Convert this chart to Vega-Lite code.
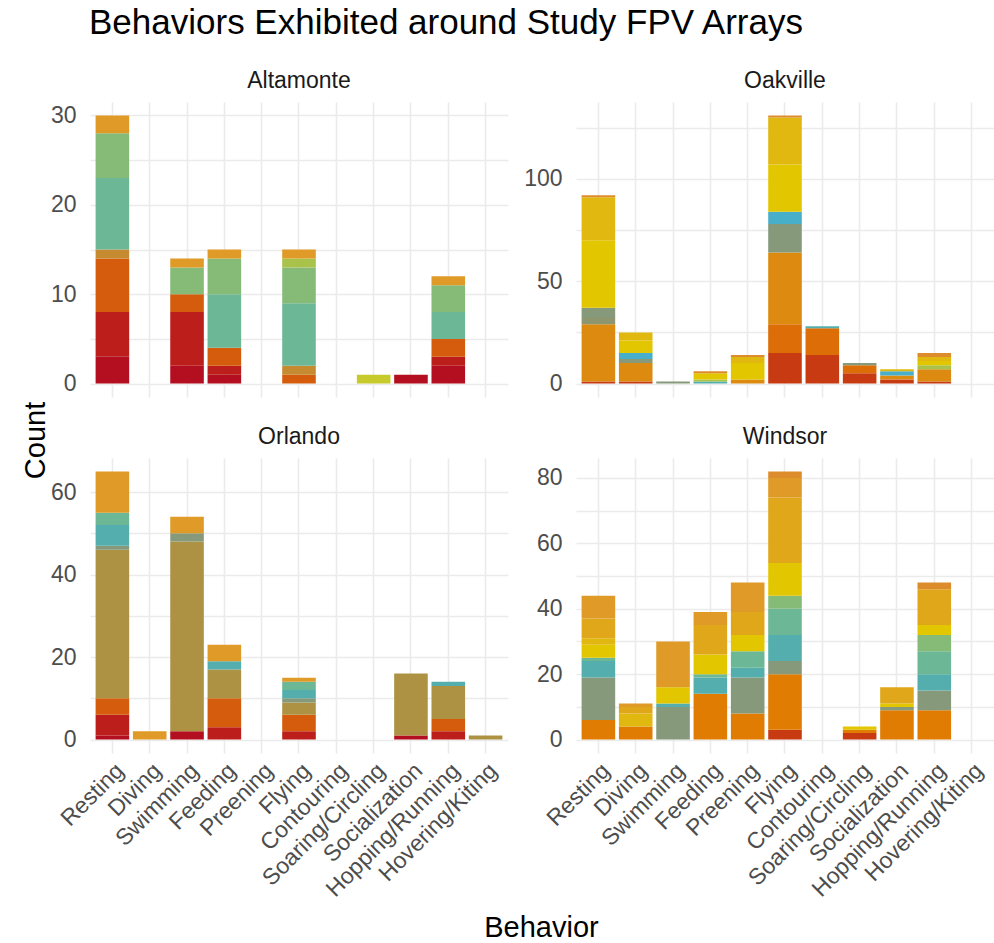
{
  "$schema": "https://vega.github.io/schema/vega-lite/v6.json",
  "background": "white",
  "padding": {"left": 21, "top": 6, "right": 0, "bottom": 0},
  "title": {"text": "Behaviors Exhibited around Study FPV Arrays", "anchor": "start", "frame": "group", "fontSize": 35, "fontWeight": "normal", "font": "Liberation Sans", "color": "#000000", "dx": -1, "offset": 29},
  "data": {"values": [
    {"site": "Altamonte", "behavior": "Resting", "species": "sp01", "count": 3},
    {"site": "Altamonte", "behavior": "Resting", "species": "sp02", "count": 5},
    {"site": "Altamonte", "behavior": "Resting", "species": "sp04", "count": 6},
    {"site": "Altamonte", "behavior": "Resting", "species": "sp08", "count": 1},
    {"site": "Altamonte", "behavior": "Resting", "species": "sp14", "count": 8},
    {"site": "Altamonte", "behavior": "Resting", "species": "sp15", "count": 5},
    {"site": "Altamonte", "behavior": "Resting", "species": "sp21", "count": 2},
    {"site": "Altamonte", "behavior": "Swimming", "species": "sp01", "count": 2},
    {"site": "Altamonte", "behavior": "Swimming", "species": "sp02", "count": 6},
    {"site": "Altamonte", "behavior": "Swimming", "species": "sp04", "count": 2},
    {"site": "Altamonte", "behavior": "Swimming", "species": "sp15", "count": 3},
    {"site": "Altamonte", "behavior": "Swimming", "species": "sp21", "count": 1},
    {"site": "Altamonte", "behavior": "Feeding", "species": "sp01", "count": 1},
    {"site": "Altamonte", "behavior": "Feeding", "species": "sp02", "count": 1},
    {"site": "Altamonte", "behavior": "Feeding", "species": "sp04", "count": 2},
    {"site": "Altamonte", "behavior": "Feeding", "species": "sp14", "count": 6},
    {"site": "Altamonte", "behavior": "Feeding", "species": "sp15", "count": 4},
    {"site": "Altamonte", "behavior": "Feeding", "species": "sp21", "count": 1},
    {"site": "Altamonte", "behavior": "Flying", "species": "sp04", "count": 1},
    {"site": "Altamonte", "behavior": "Flying", "species": "sp08", "count": 1},
    {"site": "Altamonte", "behavior": "Flying", "species": "sp14", "count": 7},
    {"site": "Altamonte", "behavior": "Flying", "species": "sp15", "count": 4},
    {"site": "Altamonte", "behavior": "Flying", "species": "sp16", "count": 1},
    {"site": "Altamonte", "behavior": "Flying", "species": "sp21", "count": 1},
    {"site": "Altamonte", "behavior": "Soaring/Circling", "species": "sp17", "count": 1},
    {"site": "Altamonte", "behavior": "Socialization", "species": "sp01", "count": 1},
    {"site": "Altamonte", "behavior": "Hopping/Running", "species": "sp01", "count": 2},
    {"site": "Altamonte", "behavior": "Hopping/Running", "species": "sp02", "count": 1},
    {"site": "Altamonte", "behavior": "Hopping/Running", "species": "sp04", "count": 2},
    {"site": "Altamonte", "behavior": "Hopping/Running", "species": "sp14", "count": 3},
    {"site": "Altamonte", "behavior": "Hopping/Running", "species": "sp15", "count": 3},
    {"site": "Altamonte", "behavior": "Hopping/Running", "species": "sp21", "count": 1},

    {"site": "Oakville", "behavior": "Resting", "species": "sp03", "count": 1},
    {"site": "Oakville", "behavior": "Resting", "species": "sp07", "count": 28},
    {"site": "Oakville", "behavior": "Resting", "species": "sp10", "count": 3},
    {"site": "Oakville", "behavior": "Resting", "species": "sp11", "count": 5},
    {"site": "Oakville", "behavior": "Resting", "species": "sp18", "count": 33},
    {"site": "Oakville", "behavior": "Resting", "species": "sp19", "count": 21},
    {"site": "Oakville", "behavior": "Resting", "species": "sp22", "count": 1},
    {"site": "Oakville", "behavior": "Diving", "species": "sp03", "count": 1},
    {"site": "Oakville", "behavior": "Diving", "species": "sp07", "count": 9},
    {"site": "Oakville", "behavior": "Diving", "species": "sp11", "count": 2},
    {"site": "Oakville", "behavior": "Diving", "species": "sp13", "count": 3},
    {"site": "Oakville", "behavior": "Diving", "species": "sp18", "count": 6},
    {"site": "Oakville", "behavior": "Diving", "species": "sp19", "count": 4},
    {"site": "Oakville", "behavior": "Swimming", "species": "sp11", "count": 1},
    {"site": "Oakville", "behavior": "Feeding", "species": "sp12", "count": 1},
    {"site": "Oakville", "behavior": "Feeding", "species": "sp16", "count": 1},
    {"site": "Oakville", "behavior": "Feeding", "species": "sp18", "count": 3},
    {"site": "Oakville", "behavior": "Feeding", "species": "sp22", "count": 1},
    {"site": "Oakville", "behavior": "Preening", "species": "sp07", "count": 2},
    {"site": "Oakville", "behavior": "Preening", "species": "sp18", "count": 8},
    {"site": "Oakville", "behavior": "Preening", "species": "sp19", "count": 3},
    {"site": "Oakville", "behavior": "Preening", "species": "sp22", "count": 1},
    {"site": "Oakville", "behavior": "Flying", "species": "sp03", "count": 15},
    {"site": "Oakville", "behavior": "Flying", "species": "sp05", "count": 14},
    {"site": "Oakville", "behavior": "Flying", "species": "sp07", "count": 35},
    {"site": "Oakville", "behavior": "Flying", "species": "sp11", "count": 14},
    {"site": "Oakville", "behavior": "Flying", "species": "sp13", "count": 6},
    {"site": "Oakville", "behavior": "Flying", "species": "sp18", "count": 23},
    {"site": "Oakville", "behavior": "Flying", "species": "sp19", "count": 23},
    {"site": "Oakville", "behavior": "Flying", "species": "sp22", "count": 1},
    {"site": "Oakville", "behavior": "Contouring", "species": "sp03", "count": 14},
    {"site": "Oakville", "behavior": "Contouring", "species": "sp05", "count": 13},
    {"site": "Oakville", "behavior": "Contouring", "species": "sp12", "count": 1},
    {"site": "Oakville", "behavior": "Soaring/Circling", "species": "sp03", "count": 5},
    {"site": "Oakville", "behavior": "Soaring/Circling", "species": "sp05", "count": 4},
    {"site": "Oakville", "behavior": "Soaring/Circling", "species": "sp11", "count": 1},
    {"site": "Oakville", "behavior": "Socialization", "species": "sp03", "count": 2},
    {"site": "Oakville", "behavior": "Socialization", "species": "sp07", "count": 2},
    {"site": "Oakville", "behavior": "Socialization", "species": "sp13", "count": 2},
    {"site": "Oakville", "behavior": "Socialization", "species": "sp19", "count": 1},
    {"site": "Oakville", "behavior": "Hopping/Running", "species": "sp03", "count": 1},
    {"site": "Oakville", "behavior": "Hopping/Running", "species": "sp07", "count": 6},
    {"site": "Oakville", "behavior": "Hopping/Running", "species": "sp16", "count": 2},
    {"site": "Oakville", "behavior": "Hopping/Running", "species": "sp18", "count": 2},
    {"site": "Oakville", "behavior": "Hopping/Running", "species": "sp19", "count": 2},
    {"site": "Oakville", "behavior": "Hopping/Running", "species": "sp22", "count": 2},

    {"site": "Orlando", "behavior": "Resting", "species": "sp01", "count": 1},
    {"site": "Orlando", "behavior": "Resting", "species": "sp02", "count": 5},
    {"site": "Orlando", "behavior": "Resting", "species": "sp04", "count": 4},
    {"site": "Orlando", "behavior": "Resting", "species": "sp09", "count": 36},
    {"site": "Orlando", "behavior": "Resting", "species": "sp11", "count": 1},
    {"site": "Orlando", "behavior": "Resting", "species": "sp12", "count": 5},
    {"site": "Orlando", "behavior": "Resting", "species": "sp14", "count": 3},
    {"site": "Orlando", "behavior": "Resting", "species": "sp21", "count": 10},
    {"site": "Orlando", "behavior": "Diving", "species": "sp21", "count": 2},
    {"site": "Orlando", "behavior": "Swimming", "species": "sp01", "count": 2},
    {"site": "Orlando", "behavior": "Swimming", "species": "sp09", "count": 46},
    {"site": "Orlando", "behavior": "Swimming", "species": "sp11", "count": 2},
    {"site": "Orlando", "behavior": "Swimming", "species": "sp21", "count": 4},
    {"site": "Orlando", "behavior": "Feeding", "species": "sp02", "count": 3},
    {"site": "Orlando", "behavior": "Feeding", "species": "sp04", "count": 7},
    {"site": "Orlando", "behavior": "Feeding", "species": "sp09", "count": 7},
    {"site": "Orlando", "behavior": "Feeding", "species": "sp12", "count": 2},
    {"site": "Orlando", "behavior": "Feeding", "species": "sp21", "count": 4},
    {"site": "Orlando", "behavior": "Flying", "species": "sp02", "count": 2},
    {"site": "Orlando", "behavior": "Flying", "species": "sp04", "count": 4},
    {"site": "Orlando", "behavior": "Flying", "species": "sp09", "count": 3},
    {"site": "Orlando", "behavior": "Flying", "species": "sp11", "count": 1},
    {"site": "Orlando", "behavior": "Flying", "species": "sp12", "count": 2},
    {"site": "Orlando", "behavior": "Flying", "species": "sp14", "count": 2},
    {"site": "Orlando", "behavior": "Flying", "species": "sp21", "count": 1},
    {"site": "Orlando", "behavior": "Socialization", "species": "sp01", "count": 1},
    {"site": "Orlando", "behavior": "Socialization", "species": "sp09", "count": 15},
    {"site": "Orlando", "behavior": "Hopping/Running", "species": "sp02", "count": 2},
    {"site": "Orlando", "behavior": "Hopping/Running", "species": "sp04", "count": 3},
    {"site": "Orlando", "behavior": "Hopping/Running", "species": "sp09", "count": 8},
    {"site": "Orlando", "behavior": "Hopping/Running", "species": "sp12", "count": 1},
    {"site": "Orlando", "behavior": "Hovering/Kiting", "species": "sp09", "count": 1},

    {"site": "Windsor", "behavior": "Resting", "species": "sp06", "count": 6},
    {"site": "Windsor", "behavior": "Resting", "species": "sp11", "count": 13},
    {"site": "Windsor", "behavior": "Resting", "species": "sp12", "count": 5},
    {"site": "Windsor", "behavior": "Resting", "species": "sp14", "count": 1},
    {"site": "Windsor", "behavior": "Resting", "species": "sp18", "count": 4},
    {"site": "Windsor", "behavior": "Resting", "species": "sp19", "count": 2},
    {"site": "Windsor", "behavior": "Resting", "species": "sp20", "count": 6},
    {"site": "Windsor", "behavior": "Resting", "species": "sp21", "count": 7},
    {"site": "Windsor", "behavior": "Diving", "species": "sp06", "count": 4},
    {"site": "Windsor", "behavior": "Diving", "species": "sp19", "count": 4},
    {"site": "Windsor", "behavior": "Diving", "species": "sp20", "count": 2},
    {"site": "Windsor", "behavior": "Diving", "species": "sp21", "count": 1},
    {"site": "Windsor", "behavior": "Swimming", "species": "sp11", "count": 10},
    {"site": "Windsor", "behavior": "Swimming", "species": "sp12", "count": 1},
    {"site": "Windsor", "behavior": "Swimming", "species": "sp18", "count": 5},
    {"site": "Windsor", "behavior": "Swimming", "species": "sp21", "count": 14},
    {"site": "Windsor", "behavior": "Feeding", "species": "sp06", "count": 14},
    {"site": "Windsor", "behavior": "Feeding", "species": "sp12", "count": 5},
    {"site": "Windsor", "behavior": "Feeding", "species": "sp14", "count": 1},
    {"site": "Windsor", "behavior": "Feeding", "species": "sp18", "count": 6},
    {"site": "Windsor", "behavior": "Feeding", "species": "sp20", "count": 9},
    {"site": "Windsor", "behavior": "Feeding", "species": "sp21", "count": 4},
    {"site": "Windsor", "behavior": "Preening", "species": "sp06", "count": 8},
    {"site": "Windsor", "behavior": "Preening", "species": "sp11", "count": 11},
    {"site": "Windsor", "behavior": "Preening", "species": "sp12", "count": 3},
    {"site": "Windsor", "behavior": "Preening", "species": "sp14", "count": 5},
    {"site": "Windsor", "behavior": "Preening", "species": "sp18", "count": 5},
    {"site": "Windsor", "behavior": "Preening", "species": "sp20", "count": 7},
    {"site": "Windsor", "behavior": "Preening", "species": "sp21", "count": 9},
    {"site": "Windsor", "behavior": "Flying", "species": "sp03", "count": 3},
    {"site": "Windsor", "behavior": "Flying", "species": "sp06", "count": 17},
    {"site": "Windsor", "behavior": "Flying", "species": "sp11", "count": 4},
    {"site": "Windsor", "behavior": "Flying", "species": "sp12", "count": 8},
    {"site": "Windsor", "behavior": "Flying", "species": "sp14", "count": 8},
    {"site": "Windsor", "behavior": "Flying", "species": "sp15", "count": 4},
    {"site": "Windsor", "behavior": "Flying", "species": "sp18", "count": 10},
    {"site": "Windsor", "behavior": "Flying", "species": "sp20", "count": 20},
    {"site": "Windsor", "behavior": "Flying", "species": "sp21", "count": 6},
    {"site": "Windsor", "behavior": "Flying", "species": "sp22", "count": 2},
    {"site": "Windsor", "behavior": "Soaring/Circling", "species": "sp03", "count": 2},
    {"site": "Windsor", "behavior": "Soaring/Circling", "species": "sp06", "count": 1},
    {"site": "Windsor", "behavior": "Soaring/Circling", "species": "sp18", "count": 1},
    {"site": "Windsor", "behavior": "Socialization", "species": "sp06", "count": 9},
    {"site": "Windsor", "behavior": "Socialization", "species": "sp11", "count": 1},
    {"site": "Windsor", "behavior": "Socialization", "species": "sp18", "count": 1},
    {"site": "Windsor", "behavior": "Socialization", "species": "sp20", "count": 5},
    {"site": "Windsor", "behavior": "Hopping/Running", "species": "sp06", "count": 9},
    {"site": "Windsor", "behavior": "Hopping/Running", "species": "sp11", "count": 6},
    {"site": "Windsor", "behavior": "Hopping/Running", "species": "sp12", "count": 5},
    {"site": "Windsor", "behavior": "Hopping/Running", "species": "sp14", "count": 7},
    {"site": "Windsor", "behavior": "Hopping/Running", "species": "sp15", "count": 5},
    {"site": "Windsor", "behavior": "Hopping/Running", "species": "sp18", "count": 3},
    {"site": "Windsor", "behavior": "Hopping/Running", "species": "sp20", "count": 11},
    {"site": "Windsor", "behavior": "Hopping/Running", "species": "sp22", "count": 2}
  ]},
  "columns": 2,
  "bounds": "flush",
  "spacing": {"row": 61, "column": 68},
  "concat": [
    {
      "title": {"text": "Altamonte"},
      "width": 418, "height": 295,
      "transform": [{"filter": "datum.site === 'Altamonte'"}],
      "mark": "bar",
      "encoding": {
        "x": {"field": "behavior", "type": "nominal", "scale": {"domain": ["Resting", "Diving", "Swimming", "Feeding", "Preening", "Flying", "Contouring", "Soaring/Circling", "Socialization", "Hopping/Running", "Hovering/Kiting"], "paddingInner": 0.1, "paddingOuter": 0.15}, "axis": {"labels": false, "title": null}},
        "y": {"field": "count", "type": "quantitative", "scale": {"domain": [-1.5, 31.5], "nice": false, "zero": false}, "axis": {"values": [0, 5, 10, 15, 20, 25, 30], "labelExpr": "datum.value % 10 === 0 ? datum.label : ''", "title": "Count", "titleX": -46, "titleY": 338, "titleAngle": -90, "titleAlign": "center", "titleBaseline": "alphabetic"}},
        "color": {"field": "species", "type": "nominal", "legend": null},
        "order": {"field": "species", "sort": "ascending"}
      }
    },
    {
      "title": {"text": "Oakville"},
      "width": 418, "height": 295,
      "transform": [{"filter": "datum.site === 'Oakville'"}],
      "mark": "bar",
      "encoding": {
        "x": {"field": "behavior", "type": "nominal", "scale": {"domain": ["Resting", "Diving", "Swimming", "Feeding", "Preening", "Flying", "Contouring", "Soaring/Circling", "Socialization", "Hopping/Running", "Hovering/Kiting"], "paddingInner": 0.1, "paddingOuter": 0.15}, "axis": {"labels": false, "title": null}},
        "y": {"field": "count", "type": "quantitative", "scale": {"domain": [-6.55, 137.55], "nice": false, "zero": false}, "axis": {"values": [0, 25, 50, 75, 100, 125], "labelExpr": "datum.value % 50 === 0 ? datum.label : ''", "title": null}},
        "color": {"field": "species", "type": "nominal", "legend": null},
        "order": {"field": "species", "sort": "ascending"}
      }
    },
    {
      "title": {"text": "Orlando"},
      "width": 418, "height": 295,
      "transform": [{"filter": "datum.site === 'Orlando'"}],
      "mark": "bar",
      "encoding": {
        "x": {"field": "behavior", "type": "nominal", "scale": {"domain": ["Resting", "Diving", "Swimming", "Feeding", "Preening", "Flying", "Contouring", "Soaring/Circling", "Socialization", "Hopping/Running", "Hovering/Kiting"], "paddingInner": 0.1, "paddingOuter": 0.15}, "axis": {"labelAngle": -45, "labelAlign": "right", "labelBaseline": "top", "title": "Behavior", "titleX": 451, "titleY": 183, "titleAlign": "center", "titleBaseline": "alphabetic"}},
        "y": {"field": "count", "type": "quantitative", "scale": {"domain": [-3.25, 68.25], "nice": false, "zero": false}, "axis": {"values": [0, 10, 20, 30, 40, 50, 60], "labelExpr": "datum.value % 20 === 0 ? datum.label : ''", "title": null}},
        "color": {"field": "species", "type": "nominal", "legend": null},
        "order": {"field": "species", "sort": "ascending"}
      }
    },
    {
      "title": {"text": "Windsor"},
      "width": 418, "height": 295,
      "transform": [{"filter": "datum.site === 'Windsor'"}],
      "mark": "bar",
      "encoding": {
        "x": {"field": "behavior", "type": "nominal", "scale": {"domain": ["Resting", "Diving", "Swimming", "Feeding", "Preening", "Flying", "Contouring", "Soaring/Circling", "Socialization", "Hopping/Running", "Hovering/Kiting"], "paddingInner": 0.1, "paddingOuter": 0.15}, "axis": {"labelAngle": -45, "labelAlign": "right", "labelBaseline": "top", "title": null}},
        "y": {"field": "count", "type": "quantitative", "scale": {"domain": [-4.1, 86.1], "nice": false, "zero": false}, "axis": {"values": [0, 10, 20, 30, 40, 50, 60, 70, 80], "labelExpr": "datum.value % 20 === 0 ? datum.label : ''", "title": null}},
        "color": {"field": "species", "type": "nominal", "legend": null},
        "order": {"field": "species", "sort": "ascending"}
      }
    }
  ],
  "resolve": {"scale": {"x": "independent", "y": "independent", "color": "shared"}},
  "config": {
    "font": "Liberation Sans",
    "view": {"stroke": null},
    "range": {"category": ["#B30F20", "#BC1E1B", "#C83B12", "#D45C0C", "#DC6D07", "#E07C02", "#DC8A10", "#C68A30", "#AD9244", "#8D966F", "#869A7B", "#55AEAE", "#47AFC9", "#6CB795", "#86BB77", "#A9C24A", "#C6CA2A", "#E2C700", "#E1B80F", "#E0A71B", "#DF9A27", "#DD8C2C"]},
    "scale": {"bandPaddingInner": 0.1},
    "axis": {"domain": false, "ticks": false, "grid": true, "gridColor": "#EBEBEB", "gridWidth": 1.6, "labelFont": "Liberation Sans", "labelFontSize": 23, "labelColor": "#4D4D4D", "labelPadding": 6, "titleFont": "Liberation Sans", "titleFontSize": 29, "titleFontWeight": "normal", "titleColor": "#000000"},
    "axisY": {"labelPadding": 14},
    "title": {"font": "Liberation Sans", "fontSize": 23, "fontWeight": "normal", "color": "#1A1A1A", "frame": "group", "anchor": "middle", "offset": 9}
  }
}
